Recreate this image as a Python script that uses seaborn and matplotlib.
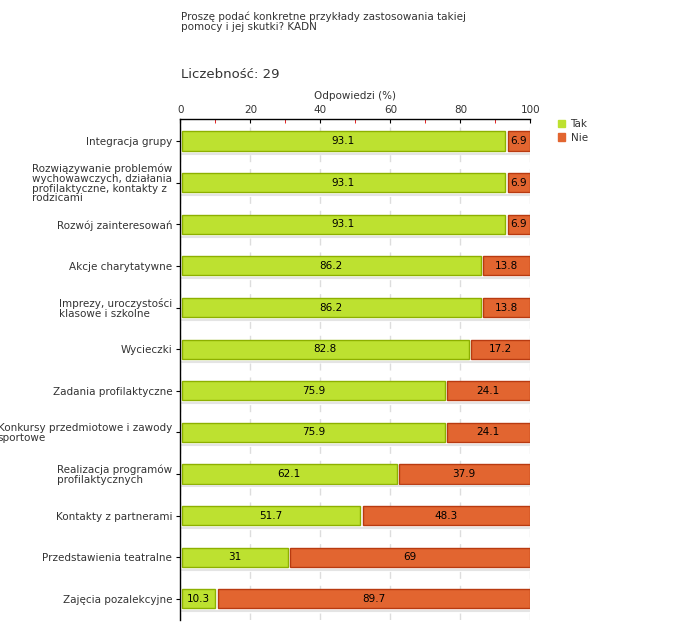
import numpy as np
import pandas as pd
import matplotlib
matplotlib.use("Agg")
import matplotlib.pyplot as plt
import seaborn as sns
from matplotlib.patches import Patch

# Dane
kategorie = [
    "Integracja grupy",
    "Rozwiązywanie problemów\nwychowawczych, działania\nprofilaktyczne, kontakty z\nrodzicami",
    "Rozwój zainteresowań",
    "Akcje charytatywne",
    "Imprezy, uroczystości\nklasowe i szkolne",
    "Wycieczki",
    "Zadania profilaktyczne",
    "Konkursy przedmiotowe i zawody\nsportowe",
    "Realizacja programów\nprofilaktycznych",
    "Kontakty z partnerami",
    "Przedstawienia teatralne",
    "Zajęcia pozalekcyjne",
]
tak = [93.1, 93.1, 93.1, 86.2, 86.2, 82.8, 75.9, 75.9, 62.1, 51.7, 31, 10.3]
nie = [6.9, 6.9, 6.9, 13.8, 13.8, 17.2, 24.1, 24.1, 37.9, 48.3, 69, 89.7]
etykiety_tak = ["93.1", "93.1", "93.1", "86.2", "86.2", "82.8", "75.9", "75.9", "62.1", "51.7", "31", "10.3"]
etykiety_nie = ["6.9", "6.9", "6.9", "13.8", "13.8", "17.2", "24.1", "24.1", "37.9", "48.3", "69", "89.7"]

kolor_tak = "#bde130"
kolor_nie = "#e26530"
brzeg_tak = "#8db000"
brzeg_nie = "#b83a10"

sns.set_style("white")
plt.rcParams["font.family"] = ["DejaVu Sans"]

df = pd.DataFrame({"kat": kategorie, "tak": tak, "nie": nie})
df["suma"] = df["tak"] + df["nie"]

fig = plt.figure(figsize=(6.8, 6.4), dpi=100)
ax = fig.add_axes([0.2654, 0.03125, 0.5147, 0.7828])

h = 0.46
sns.barplot(data=df, x="suma", y="kat", orient="h", color=kolor_nie,
            width=h, saturation=1, ax=ax, edgecolor=brzeg_nie, linewidth=1)
n = len(kategorie)
czerwone = list(ax.patches)
sns.barplot(data=df, x="tak", y="kat", orient="h", color=kolor_tak,
            width=h, saturation=1, ax=ax, edgecolor=brzeg_tak, linewidth=1)
zielone = list(ax.patches)[n:]

gap = 0.35
for i, (pc, pg) in enumerate(zip(czerwone, zielone)):
    pc.set_x(tak[i] + gap)
    pc.set_width(nie[i] - gap)
    pg.set_x(0.45)
    pg.set_width(tak[i] - 0.45 - gap)
    # cień pod słupkiem
    ax.plot([0.45, 100], [i + h / 2 + 0.07] * 2, color="#e4e4e4", lw=1.5, zorder=1)
    ax.text(tak[i] / 2, i, etykiety_tak[i], ha="center", va="center", fontsize=7.5, color="black")
    ax.text(tak[i] + nie[i] / 2, i, etykiety_nie[i], ha="center", va="center", fontsize=7.5, color="black")

ax.set_xlim(0, 100)
ax.set_ylim(n - 1 + 0.51, -0.53)

ax.xaxis.tick_top()
ax.xaxis.set_label_position("top")
ax.set_xticks([0, 20, 40, 60, 80, 100])
ax.set_xticks([10, 30, 50, 70, 90], minor=True)
ax.tick_params(axis="x", which="major", direction="in", length=3, color="black",
               labelsize=7.5, labelcolor="#333333", pad=3, top=True, bottom=False)
ax.tick_params(axis="x", which="minor", direction="in", length=3, color="#dd0000",
               top=True, bottom=False)
ax.set_xlabel("Odpowiedzi (%)", fontsize=7.5, color="#333333", labelpad=4)
ax.set_ylabel("")
ax.tick_params(axis="y", direction="out", length=3, color="black", labelsize=7.5,
               labelcolor="#333333", left=True, pad=3)
for lab in ax.get_yticklabels():
    lab.set_multialignment("left")
    lab.set_linespacing(0.95)

ax.grid(axis="x", color="#dddddd", linestyle=(0, (5, 5)), lw=1)
ax.set_axisbelow(True)
for s in ["right", "bottom"]:
    ax.spines[s].set_visible(False)
for s in ["top", "left"]:
    ax.spines[s].set_color("black")
    ax.spines[s].set_linewidth(1)

uchwyty = [Patch(facecolor=kolor_tak, edgecolor=kolor_tak, label="Tak"),
           Patch(facecolor=kolor_nie, edgecolor=kolor_nie, label="Nie")]
fig.legend(handles=uchwyty, loc="upper left", bbox_to_anchor=(0.813, 0.822),
           frameon=False, fontsize=7.5, handlelength=0.7, handleheight=0.7,
           handletextpad=0.5, labelspacing=0.35, borderpad=0, labelcolor="#333333")

fig.text(181 / 680, 1 - 22 / 640, "Proszę podać konkretne przykłady zastosowania takiej\npomocy i jej skutki? KADN",
         ha="left", va="center", fontsize=7.5, color="#333333", linespacing=1.0)
fig.text(181 / 680, 1 - 75 / 640, "Liczebność: 29", ha="left", va="center", fontsize=9.5, color="#333333")

fig.savefig("out.png", dpi=100)
